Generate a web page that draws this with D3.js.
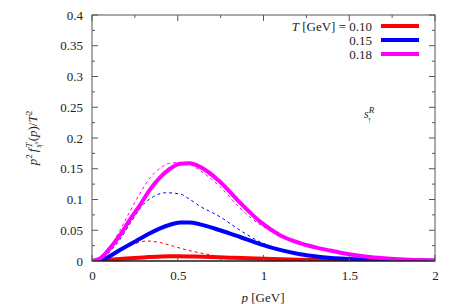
<!DOCTYPE html>
<html><head><meta charset="utf-8">
<script src="https://cdn.jsdelivr.net/npm/d3@7"></script>
<style>body{margin:0;background:#fff;}</style></head><body>
<svg id="c" width="463" height="304"></svg>
<script>
// p values [GeV] and p^2 f / T^2
const solid010 = [[0,0],[0.1,0.002],[0.2,0.004],[0.3,0.0058],[0.4,0.0072],[0.45,0.0076],[0.5,0.0076],[0.6,0.0072],[0.7,0.0064],[0.8,0.0054],[1.0,0.0036],[1.2,0.0022],[1.4,0.0013],[1.6,0.0007],[1.8,0.0004],[2.0,0.0002]];
const solid015 = [[0,0],[0.05,0.001],[0.105,0.008],[0.163,0.018],[0.22,0.027],[0.28,0.036],[0.338,0.045],[0.397,0.053],[0.455,0.059],[0.513,0.0625],[0.571,0.0625],[0.63,0.0595],[0.746,0.050],[0.863,0.039],[0.98,0.0275],[1.096,0.018],[1.213,0.011],[1.32,0.007],[1.45,0.004],[1.6,0.0022],[1.8,0.001],[2.0,0.0005]];
const solid018 = [[0,0],[0.047,0.004],[0.105,0.021],[0.163,0.042],[0.22,0.067],[0.28,0.091],[0.338,0.116],[0.397,0.136],[0.455,0.150],[0.513,0.158],[0.571,0.159],[0.63,0.153],[0.746,0.129],[0.863,0.095],[0.98,0.064],[1.096,0.042],[1.213,0.029],[1.32,0.021],[1.39,0.017],[1.50,0.011],[1.62,0.0065],[1.74,0.0038],[1.85,0.0022],[2.0,0.0012]];
const dashed010 = [[0,0],[0.05,0.002],[0.1,0.008],[0.163,0.018],[0.24,0.027],[0.318,0.0325],[0.397,0.030],[0.475,0.024],[0.552,0.018],[0.67,0.011],[0.73,0.008]];
const dashed015 = [[0,0],[0.05,0.003],[0.1,0.014],[0.163,0.035],[0.22,0.060],[0.30,0.092],[0.36,0.105],[0.43,0.111],[0.513,0.109],[0.571,0.100],[0.63,0.089],[0.746,0.072],[0.863,0.050],[0.98,0.031],[1.07,0.021]];
const dashed018 = [[0,0],[0.05,0.004],[0.105,0.023],[0.163,0.050],[0.22,0.080],[0.28,0.110],[0.338,0.135],[0.397,0.151],[0.455,0.159],[0.513,0.160],[0.571,0.157],[0.63,0.147],[0.746,0.121],[0.863,0.086],[0.98,0.059],[1.07,0.046]];
const temps = ["0.10","0.15","0.18"];
const colors = ["#ff0000","#0000ff","#ff00ff"];
const xTicks = [0,0.5,1,1.5,2];
const yTicks = [0,0.05,0.1,0.15,0.2,0.25,0.3,0.35,0.4];

const FONT = "Liberation Serif";
const svg = d3.select("#c");
const L=92,R=435,T=15,B=261;
const x = d3.scaleLinear().domain([0,2]).range([L,R]);
const y = d3.scaleLinear().domain([0,0.4]).range([B,T]);

svg.append("clipPath").attr("id","clp").append("rect").attr("x",L).attr("y",T).attr("width",R-L).attr("height",B-T);

const line = d3.line().x(d=>x(d[0])).y(d=>y(d[1])).curve(d3.curveMonotoneX);
const g = svg.append("g").attr("clip-path","url(#clp)");
const solids=[solid010,solid015,solid018], dashes=[dashed010,dashed015,dashed018];
dashes.forEach((d,i)=>g.append("path").datum(d).attr("d",line).attr("fill","none").attr("stroke",colors[i]).attr("stroke-width",1).attr("stroke-dasharray","3,3"));
solids.forEach((d,i)=>g.append("path").datum(d).attr("d",line).attr("fill","none").attr("stroke",colors[i]).attr("stroke-width",4));

// frame
svg.append("rect").attr("x",L).attr("y",T).attr("width",R-L).attr("height",B-T).attr("fill","none").attr("stroke","#555").attr("stroke-width",1);
svg.append("line").attr("x1",L).attr("x2",R).attr("y1",B).attr("y2",B).attr("stroke","#000").attr("stroke-width",1);
// ticks
const tk = svg.append("g").attr("stroke","#555").attr("stroke-width",1);
d3.range(0,2.0001,0.25).forEach(v=>{
  const len = (Math.abs(v*2-Math.round(v*2))<1e-6)?6:3;
  tk.append("line").attr("x1",x(v)).attr("x2",x(v)).attr("y1",B).attr("y2",B-len);
  tk.append("line").attr("x1",x(v)).attr("x2",x(v)).attr("y1",T).attr("y2",T+len);
});
d3.range(0,0.4001,0.025).forEach(v=>{
  const len = (Math.abs(v*20-Math.round(v*20))<1e-6)?6:3;
  tk.append("line").attr("x1",L).attr("x2",L+len).attr("y1",y(v)).attr("y2",y(v));
  tk.append("line").attr("x1",R).attr("x2",R-len).attr("y1",y(v)).attr("y2",y(v));
});
// axis labels via d3 axes (text only)
const xa = svg.append("g").attr("transform",`translate(0,${B})`).call(d3.axisBottom(x).tickValues(xTicks).tickFormat(d=>String(d)).tickSize(0).tickPadding(10));
const ya = svg.append("g").attr("transform",`translate(${L},0)`).call(d3.axisLeft(y).tickValues(yTicks).tickFormat(d=>String(+d.toFixed(2))).tickSize(0).tickPadding(9));
[xa,ya].forEach(a=>{a.attr("font-family",FONT).attr("font-size",13); a.select(".domain").remove(); a.selectAll("text").attr("fill","#222");});

// x label
const xl = svg.append("text").attr("x",263).attr("y",302).attr("text-anchor","middle").attr("font-size",13).attr("font-family",FONT).attr("fill","#222");
xl.append("tspan").attr("font-style","italic").text("p");
xl.append("tspan").text(" [GeV]");
// y label
const yl = svg.append("text").attr("transform","translate(37,138) rotate(-90)").attr("text-anchor","middle").attr("font-size",13).attr("font-family",FONT).attr("fill","#222");
yl.append("tspan").attr("font-style","italic").text("p");
yl.append("tspan").attr("dy",-5).attr("font-size",9).text("2");
yl.append("tspan").attr("dx",2).attr("dy",5).attr("font-style","italic").text("f");
yl.append("tspan").attr("dx",1).attr("dy",-5).attr("font-size",9).attr("font-style","italic").text("T");
yl.append("tspan").attr("dx",-5).attr("dy",9).attr("font-size",8).attr("font-style","italic").text("s");
yl.append("tspan").attr("dy",-3).attr("font-size",5).attr("font-style","italic").text("R");
yl.append("tspan").attr("dx",-6).attr("dy",6).attr("font-size",6).text("↑");
yl.append("tspan").attr("dx",3).attr("dy",-7).text("(");
yl.append("tspan").attr("font-style","italic").text("p");
yl.append("tspan").text(")/");
yl.append("tspan").attr("font-style","italic").text("T");
yl.append("tspan").attr("dy",-5).attr("font-size",9).text("2");

// legend
temps.forEach((t,i)=>{
  const yy = 26+i*14;
  const tx = svg.append("text").attr("x",372).attr("y",yy+4.5).attr("text-anchor","end").attr("font-size",13).attr("font-family",FONT).attr("fill","#222");
  if(i===0){tx.append("tspan").attr("font-style","italic").text("T");tx.append("tspan").text(" [GeV] = "+t);}
  else tx.text(t);
  svg.append("line").attr("x1",381).attr("x2",419).attr("y1",yy).attr("y2",yy).attr("stroke",colors[i]).attr("stroke-width",4);
});
// annotation
const an = svg.append("text").attr("x",364).attr("y",118).attr("font-size",12).attr("font-family",FONT).attr("fill","#222");
an.append("tspan").attr("font-style","italic").text("s");
an.append("tspan").attr("dy",-5).attr("font-size",9).attr("font-style","italic").text("R");
an.append("tspan").attr("dx",-7).attr("dy",10).attr("font-size",9).text("↑");
</script></body></html>
